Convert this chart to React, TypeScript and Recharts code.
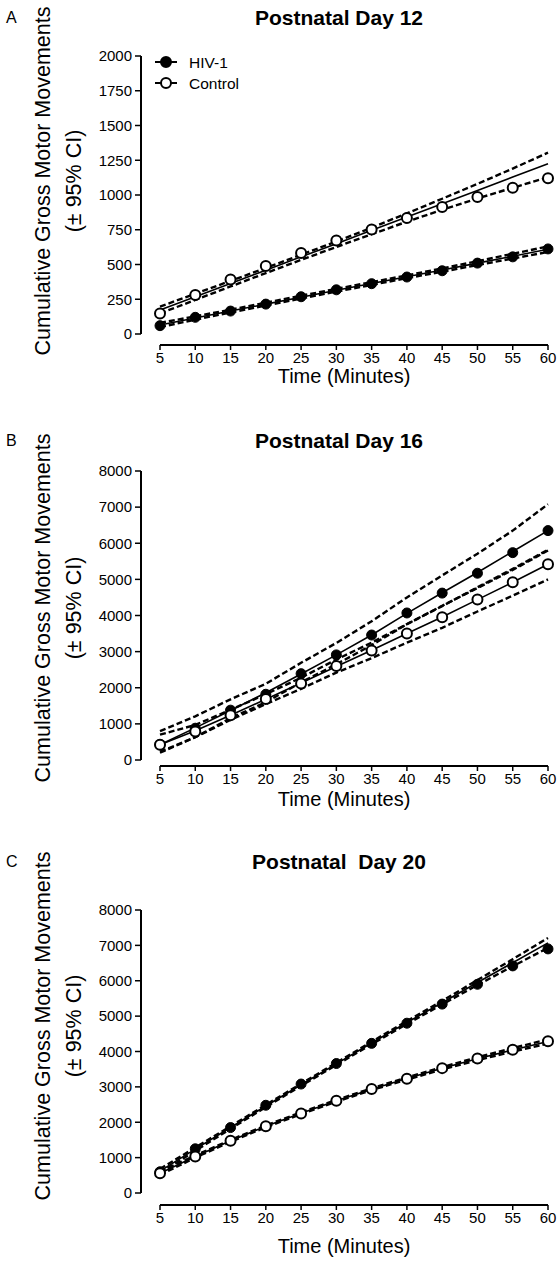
import React from "react";
import { LineChart, Line, XAxis, YAxis } from "recharts";

const FONT = '"Liberation Sans", Arial, Helvetica, sans-serif';

const minutes = [5, 10, 15, 20, 25, 30, 35, 40, 45, 50, 55, 60];
const ticks2000 = [0, 250, 500, 750, 1000, 1250, 1500, 1750, 2000];
const ticks8000 = [0, 1000, 2000, 3000, 4000, 5000, 6000, 7000, 8000];

// postnatal day 12
const d12Hiv = [60, 120, 165, 215, 268, 318, 362, 410, 455, 510, 555, 612];
const d12HivFit = [65, 115, 165, 215, 265, 315, 363, 412, 460, 510, 560, 610];
const d12HivHi = [80, 127, 175, 225, 275, 325, 373, 422, 472, 524, 577, 630];
const d12HivLo = [50, 103, 155, 205, 255, 305, 353, 402, 448, 496, 543, 590];
const d12Ctl = [148, 280, 392, 490, 583, 672, 752, 835, 913, 985, 1052, 1120];
const d12CtlFit = [172, 268, 364, 459, 555, 650, 746, 842, 937, 1033, 1129, 1225];
const d12CtlHi = [197, 290, 382, 475, 570, 666, 765, 868, 973, 1080, 1190, 1305];
const d12CtlLo = [148, 245, 342, 438, 533, 626, 718, 808, 893, 975, 1052, 1128];

// postnatal day 16
const d16Hiv = [430, 880, 1380, 1820, 2390, 2910, 3460, 4070, 4620, 5170, 5740, 6350];
const d16HivFit = [420, 890, 1370, 1860, 2380, 2910, 3460, 4060, 4630, 5190, 5770, 6350];
const d16HivHi = [800, 1210, 1680, 2110, 2690, 3240, 3840, 4500, 5110, 5710, 6350, 7080];
const d16HivLo = [200, 630, 1160, 1600, 2150, 2650, 3180, 3760, 4270, 4760, 5260, 5800];
const d16Ctl = [420, 790, 1240, 1690, 2120, 2600, 3030, 3500, 3950, 4440, 4920, 5420];
const d16CtlFit = [420, 810, 1240, 1680, 2130, 2590, 3040, 3500, 3960, 4440, 4920, 5420];
const d16CtlHi = [700, 970, 1390, 1820, 2280, 2780, 3250, 3760, 4260, 4780, 5290, 5820];
const d16CtlLo = [230, 630, 1110, 1550, 1970, 2420, 2820, 3250, 3660, 4110, 4550, 5000];

// postnatal day 20
const d20Hiv = [600, 1250, 1850, 2480, 3080, 3660, 4230, 4800, 5340, 5900, 6420, 6900];
const d20HivFit = [620, 1240, 1850, 2460, 3060, 3650, 4240, 4820, 5380, 5950, 6510, 7070];
const d20HivHi = [680, 1285, 1885, 2490, 3090, 3680, 4275, 4860, 5430, 6020, 6610, 7210];
const d20HivLo = [560, 1195, 1815, 2430, 3030, 3620, 4205, 4780, 5330, 5880, 6410, 6930];
const d20Ctl = [560, 1030, 1480, 1890, 2250, 2610, 2940, 3230, 3530, 3800, 4050, 4290];
const d20CtlFit = [560, 1030, 1475, 1885, 2255, 2605, 2935, 3235, 3525, 3795, 4045, 4285];
const d20CtlHi = [610, 1060, 1500, 1910, 2280, 2630, 2960, 3265, 3560, 3835, 4095, 4345];
const d20CtlLo = [510, 1000, 1450, 1860, 2230, 2580, 2910, 3205, 3490, 3755, 3995, 4225];

const panels = [
  {
    letter: "A", title: "Postnatal Day 12", top: 0, height: 420,
    titleY: 18, plotTop: 56, zeroY: 334, axisY: 345, timeY: 376, yLabelY: 181,
    yMax: 2000, yTicks: ticks2000, legend: true,
    s: [d12Hiv, d12HivFit, d12HivHi, d12HivLo, d12Ctl, d12CtlFit, d12CtlHi, d12CtlLo],
  },
  {
    letter: "B", title: "Postnatal Day 16", top: 422, height: 420,
    titleY: 441, plotTop: 471, zeroY: 760, axisY: 766, timeY: 799, yLabelY: 608,
    yMax: 8000, yTicks: ticks8000, legend: false,
    s: [d16Hiv, d16HivFit, d16HivHi, d16HivLo, d16Ctl, d16CtlFit, d16CtlHi, d16CtlLo],
  },
  {
    letter: "C", title: "Postnatal  Day 20", top: 842, height: 426,
    titleY: 862, plotTop: 910, zeroY: 1193, axisY: 1205, timeY: 1246, yLabelY: 1026,
    yMax: 8000, yTicks: ticks8000, legend: false,
    s: [d20Hiv, d20HivFit, d20HivHi, d20HivLo, d20Ctl, d20CtlFit, d20CtlHi, d20CtlLo],
  },
];

const keys = ["hiv", "hivFit", "hivHi", "hivLo", "ctl", "ctlFit", "ctlHi", "ctlLo"];
const X_AXIS_H = 50;

function LegendBox() {
  const row = (filled: boolean, text: string, y: number) => (
    <g transform={`translate(0, ${y})`}>
      <line x1={0} x2={22} y1={0} y2={0} stroke="#000" strokeWidth={2} />
      <circle cx={11} cy={0} r={5} fill={filled ? "#000" : "#fff"} stroke="#000" strokeWidth={2} />
      <text x={34} y={0} dominantBaseline="central" fontFamily={FONT} fontSize={15.5} fill="#000">
        {text}
      </text>
    </g>
  );
  return (
    <svg width={120} height={50} style={{ position: "absolute", left: 155, top: 51 }}>
      {row(true, "HIV-1", 11)}
      {row(false, "Control", 32)}
    </svg>
  );
}

function Panel({ p }: { p: (typeof panels)[number] }) {
  const rows = minutes.map((m, i) => {
    const r: Record<string, number> = { m };
    keys.forEach((k, j) => (r[k] = p.s[j][i]));
    return r;
  });
  const marginTop = p.plotTop - p.top;
  const marginBottom = p.top + p.height - p.axisY - X_AXIS_H;
  const yLabelCy = p.yLabelY - p.top;
  const timeOffset = p.timeY - p.axisY;

  const dashed = (k: string) => (
    <Line key={k} dataKey={k} type="linear" stroke="#000" strokeWidth={2.4}
      strokeDasharray="6 3" dot={false} activeDot={false} isAnimationActive={false} />
  );
  const solid = (k: string) => (
    <Line key={k} dataKey={k} type="linear" stroke="#000" strokeWidth={1.6}
      dot={false} activeDot={false} isAnimationActive={false} />
  );

  return (
    <div style={{ position: "absolute", left: 0, top: p.top, width: 559, height: p.height }}>
      <div style={{ position: "absolute", left: 6, top: p.titleY - p.top - 10, fontFamily: FONT, fontSize: 16, lineHeight: "20px" }}>
        {p.letter}
      </div>
      <div style={{ position: "absolute", left: 130, width: 418, top: p.titleY - p.top - 12, textAlign: "center",
        fontFamily: FONT, fontSize: 21, fontWeight: "bold", lineHeight: "24px", whiteSpace: "pre" }}>
        {p.title}
      </div>
      <LineChart width={559} height={p.height} data={rows}
        margin={{ top: marginTop, right: 11, bottom: marginBottom, left: 81 }}>
        <XAxis dataKey="m" type="number" domain={[5, 60]} ticks={minutes} interval={0}
          padding={{ left: 19, right: 0 }} height={X_AXIS_H}
          axisLine={{ stroke: "#000", strokeWidth: 2, strokeDasharray: "0 19 4000" }}
          tickLine={{ stroke: "#000", strokeWidth: 1.5 }} tickSize={5} tickMargin={2}
          tick={{ fill: "#000", fontSize: 15, fontFamily: FONT }}
          label={{
            content: (props: any) => (
              <text x={344} y={(props.viewBox?.y ?? 0) + timeOffset} textAnchor="middle" dominantBaseline="central"
                fontFamily={FONT} fontSize={20} fill="#000">Time (Minutes)</text>
            ),
          }} />
        <YAxis type="number" domain={[0, p.yMax]} ticks={p.yTicks} interval={0} width={60}
          padding={{ top: 0, bottom: p.axisY - p.zeroY }}
          axisLine={{ stroke: "#000", strokeWidth: 2, strokeDasharray: `${p.zeroY - p.plotTop} 4000` }}
          tickLine={{ stroke: "#000", strokeWidth: 1.5 }} tickSize={6} tickMargin={3}
          tick={{ fill: "#000", fontSize: 15, fontFamily: FONT }}
          label={{
            content: () => (
              <g>
                <text transform={`translate(43, ${yLabelCy}) rotate(-90)`} textAnchor="middle"
                  dominantBaseline="central" fontFamily={FONT} fontSize={21.5} fill="#000">
                  Cumulative Gross Motor Movements
                </text>
                <text transform={`translate(74, ${yLabelCy}) rotate(-90)`} textAnchor="middle"
                  dominantBaseline="central" fontFamily={FONT} fontSize={21.5} fill="#000">
                  (± 95% CI)
                </text>
              </g>
            ),
          }} />
        {dashed("hivHi")}
        {dashed("hivLo")}
        {dashed("ctlHi")}
        {dashed("ctlLo")}
        {solid("hivFit")}
        {solid("ctlFit")}
        <Line dataKey="hiv" stroke="none" isAnimationActive={false} activeDot={false}
          dot={{ r: 5, fill: "#000", stroke: "#000", strokeWidth: 1 }} />
        <Line dataKey="ctl" stroke="none" isAnimationActive={false} activeDot={false}
          dot={{ r: 5, fill: "#fff", stroke: "#000", strokeWidth: 2 }} />
      </LineChart>
      {p.legend && <LegendBox />}
    </div>
  );
}

export default function App() {
  return (
    <div style={{ position: "absolute", left: 0, top: 0, width: 559, height: 1268, background: "#fff" }}>
      {panels.map((p) => (
        <Panel key={p.letter} p={p} />
      ))}
    </div>
  );
}
